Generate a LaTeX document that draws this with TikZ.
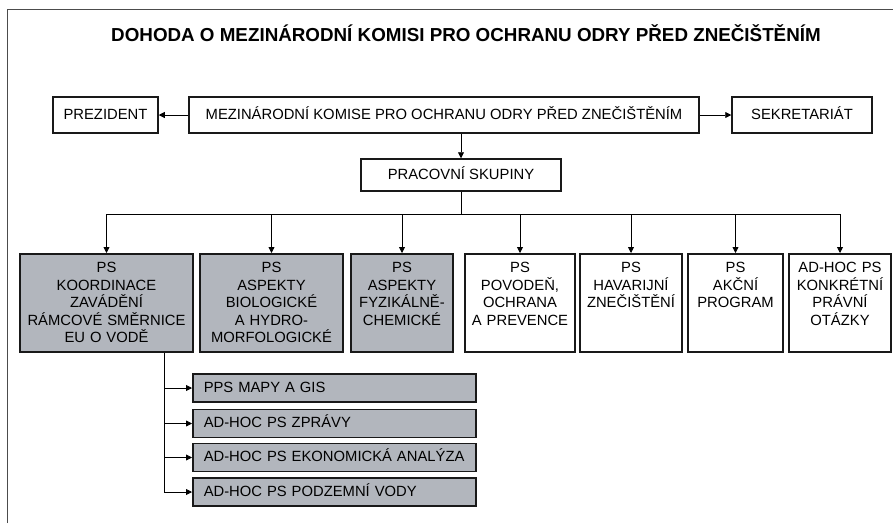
\documentclass[tikz,border=0pt]{standalone}
\usepackage{fontspec}
\setmainfont{Liberation Sans}
\usetikzlibrary{arrows.meta, positioning}
\definecolor{psgray}{RGB}{178,182,189}

\begin{document}
\begin{tikzpicture}[x=1pt, y=-1pt, font=\fontsize{14.8}{17.5}\selectfont,
    line/.style={line width=0.8pt, black},
    arr/.style={line, -{Triangle[length=6pt, width=6pt]}},
    box/.style={draw=black!90, line width=1.5pt, inner sep=0pt, minimum height=36pt, text height=11pt, text depth=3pt},
    grp/.style={draw=black!90, line width=1.5pt, anchor=north, align=center, inner xsep=2pt, inner ysep=8pt, text height=11pt, text depth=71pt},
    sub/.style={draw=black!90, line width=1.5pt, fill=psgray, anchor=west, align=left, text width=261pt, inner xsep=11pt, inner ysep=0pt, minimum height=28pt, text height=11pt, text depth=3pt}]
    \useasboundingbox (0,0) rectangle (893,523);
    \draw[line width=1pt, black!70] (7,523) -- (7,9) -- (893,9);

    \node (title) at (466,33) [font=\fontsize{18.8}{22}\selectfont\bfseries] {DOHODA O MEZINÁRODNÍ KOMISI PRO OCHRANU ODRY PŘED ZNEČIŠTĚNÍM};

    \node (kom)  [box, minimum width=510pt] at (444,115) {MEZINÁRODNÍ KOMISE PRO OCHRANU ODRY PŘED ZNEČIŠTĚNÍM};
    \node (prez) [box, minimum width=105pt] at (105.5,115) {PREZIDENT};
    \node (sekr) [box, minimum width=140pt] at (802,115) {SEKRETARIÁT};
    \node (skup) [box, minimum width=200pt, minimum height=32pt] at (461,175) {PRACOVNÍ SKUPINY};

    \node (ps1) [grp, fill=psgray, text width=169pt] at (106.5,253) {PS\\KOORDINACE\\ZAVÁDĚNÍ\\RÁMCOVÉ SMĚRNICE\\EU O VODĚ};
    \node (ps2) [grp, fill=psgray, text width=139pt] at (271.5,253) {PS\\ASPEKTY\\BIOLOGICKÉ\\A HYDRO-\\MORFOLOGICKÉ};
    \node (ps3) [grp, fill=psgray, text width=98pt] at (402,253) {PS\\ASPEKTY\\FYZIKÁLNĚ-\\CHEMICKÉ};
    \node (ps4) [grp, text width=106pt] at (520,253) {PS\\POVODEŇ,\\OCHRANA\\A PREVENCE};
    \node (ps5) [grp, text width=98pt] at (631,253) {PS\\HAVARIJNÍ\\ZNEČIŠTĚNÍ};
    \node (ps6) [grp, text width=91pt] at (735.5,253) {PS\\AKČNÍ\\PROGRAM};
    \node (ps7) [grp, text width=98pt] at (840,253) {AD-HOC PS\\KONKRÉTNÍ\\PRÁVNÍ\\OTÁZKY};

    \node (mapy) [sub] at (192,388) {PPS MAPY A GIS};
    \node (zpr)  [sub] at (192,423.5) {AD-HOC PS ZPRÁVY};
    \node (eko)  [sub] at (192,457.5) {AD-HOC PS EKONOMICKÁ ANALÝZA};
    \node (pod)  [sub] at (192,492) {AD-HOC PS PODZEMNÍ VODY};

    \coordinate (bus) at (0,214);
    \coordinate (rake) at (164,0);

    % komise
    \draw[arr] (kom.west) -- (prez.east);
    \draw[arr] (kom.east) -- (sekr.west);
    \draw[arr] (kom.south -| skup.north) -- (skup.north);

    % pracovni skupiny
    \draw[line] (skup.south) -- (skup.south |- bus);
    \draw[line] (ps1.north |- bus) -- (ps7.north |- bus);
    \foreach \n in {ps1,ps2,ps3,ps4,ps5,ps6,ps7}
        \draw[arr] (\n.north |- bus) -- (\n.north);

    % podskupiny
    \draw[line] (ps1.south -| rake) -- (pod.west -| rake);
    \foreach \n in {mapy,zpr,eko,pod}
        \draw[arr] (\n.west -| rake) -- (\n.west);
\end{tikzpicture}
\end{document}
